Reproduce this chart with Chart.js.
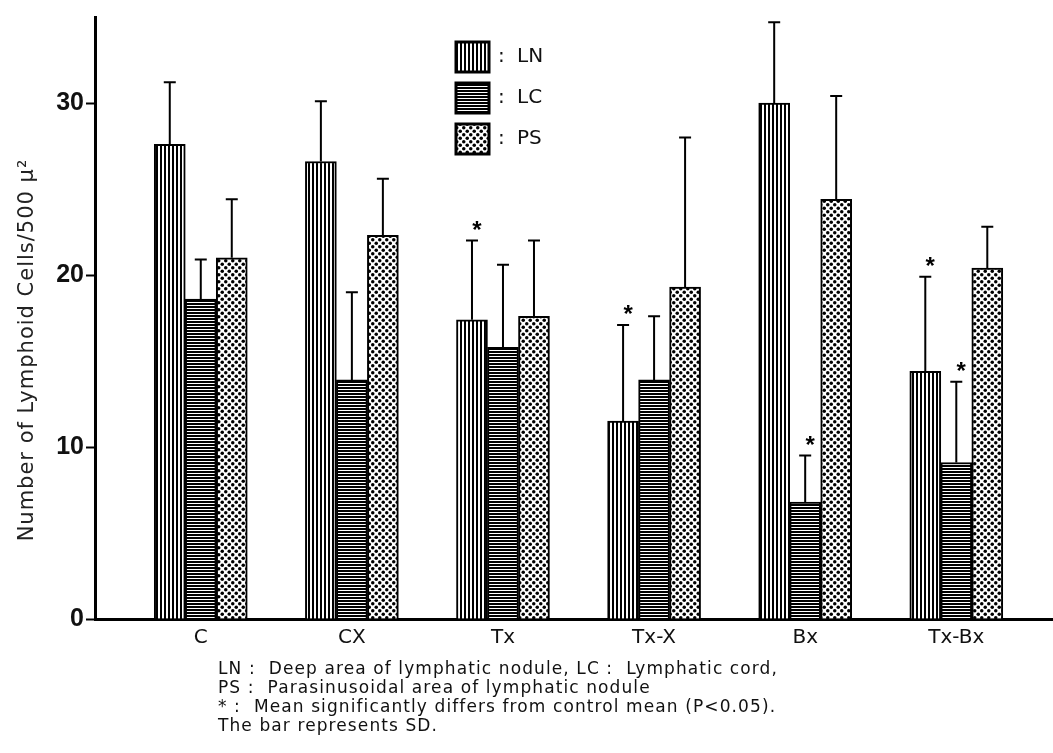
<!DOCTYPE html>
<html>
<head>
<meta charset="utf-8">
<script src="https://cdn.jsdelivr.net/npm/chart.js@4.4.1/dist/chart.umd.min.js"></script>
<style>
    html, body { margin: 0; padding: 0; background: #fff; }
    #wrap { position: relative; width: 1053px; height: 753px; }
    #footnote {
        position: absolute;
        left: 218px;
        top: 659px;
        font-family: "DejaVu Sans", "Liberation Sans", sans-serif;
        font-size: 17px;
        line-height: 19px;
        letter-spacing: 1.1px;
        color: #111;
        white-space: pre;
    }
</style>
</head>
<body>
<div id="wrap">
    <canvas id="chart" width="1053" height="753"></canvas>
    <div id="footnote">LN :  Deep area of lymphatic nodule, LC :  Lymphatic cord,
PS :  Parasinusoidal area of lymphatic nodule
* :  Mean significantly differs from control mean (P&lt;0.05).
The bar represents SD.</div>
</div>
<script>
// 그룹(카테고리)
const categories = ['C', 'CX', 'Tx', 'Tx-X', 'Bx', 'Tx-Bx'];

// LN : Deep area of lymphatic nodule
const lnMean = [27.6, 26.6, 17.4, 11.5, 30.0, 14.4];
const lnSd = [3.6, 3.5, 4.6, 5.6, 4.7, 5.5];
const lnStar = [false, false, true, true, false, true];

// LC : Lymphatic cord
const lcMean = [18.6, 13.9, 15.8, 13.9, 6.8, 9.1];
const lcSd = [2.3, 5.1, 4.8, 3.7, 2.7, 4.7];
const lcStar = [false, false, false, false, true, true];

// PS : Parasinusoidal area
const psMean = [21.0, 22.3, 17.6, 19.3, 24.4, 20.4];
const psSd = [3.4, 3.3, 4.4, 8.7, 6.0, 2.4];
const psStar = [false, false, false, false, false, false];

const yTicks = [0, 10, 20, 30];
const yTitle = 'Number of Lymphoid Cells/500 \u03bc\u00b2';

// 해칭 패턴 만들기
function makePattern(kind) {
    const c = document.createElement('canvas');
    const g = c.getContext('2d');
    if (kind === 'vertical') {
        c.width = 4; c.height = 4;
        g.fillStyle = '#fff'; g.fillRect(0, 0, 4, 4);
        g.fillStyle = '#000'; g.fillRect(0, 0, 2, 4);
    } else if (kind === 'horizontal') {
        c.width = 4; c.height = 3;
        g.fillStyle = '#fff'; g.fillRect(0, 0, 4, 3);
        g.fillStyle = '#000'; g.fillRect(0, 0, 4, 2);
    } else {
        c.width = 7; c.height = 7;
        g.fillStyle = '#fff'; g.fillRect(0, 0, 7, 7);
        g.fillStyle = '#000';
        [[1.75, 1.75], [5.25, 5.25]].forEach(([x, y]) => {
            g.beginPath(); g.arc(x, y, 1.75, 0, Math.PI * 2); g.fill();
        });
    }
    return g.createPattern(c, 'repeat');
}

const series = [
    { label: 'LN', mean: lnMean, sd: lnSd, star: lnStar, fill: makePattern('vertical') },
    { label: 'LC', mean: lcMean, sd: lcSd, star: lcStar, fill: makePattern('horizontal') },
    { label: 'PS', mean: psMean, sd: psSd, star: psStar, fill: makePattern('dots') }
];

// 에러바와 별표
const errorBars = {
    id: 'errorBars',
    afterDatasetsDraw(chart) {
        const ctx = chart.ctx;
        const yScale = chart.scales.y;
        ctx.save();
        ctx.strokeStyle = '#000';
        ctx.fillStyle = '#000';
        ctx.lineWidth = 2;
        series.forEach((s, di) => {
            chart.getDatasetMeta(di).data.forEach((bar, i) => {
                const top = yScale.getPixelForValue(s.mean[i] + s.sd[i]);
                ctx.beginPath();
                ctx.moveTo(bar.x, bar.y);
                ctx.lineTo(bar.x, top);
                ctx.moveTo(bar.x - 6, top);
                ctx.lineTo(bar.x + 6, top);
                ctx.stroke();
                if (s.star[i]) {
                    ctx.font = 'bold 24px "Liberation Sans", Arial, sans-serif';
                    ctx.textAlign = 'center';
                    ctx.textBaseline = 'alphabetic';
                    ctx.fillText('*', bar.x + 5, top - 3);
                }
            });
        });
        ctx.restore();
    }
};

// 범례와 y축 제목
const annotations = {
    id: 'annotations',
    afterDraw(chart) {
        const ctx = chart.ctx;
        ctx.save();
        series.forEach((s, i) => {
            const cy = 57 + i * 41;
            ctx.fillStyle = s.fill;
            ctx.fillRect(456, cy - 15, 33, 30);
            ctx.strokeStyle = '#000';
            ctx.lineWidth = 3;
            ctx.strokeRect(456, cy - 15, 33, 30);
            ctx.fillStyle = '#111';
            ctx.font = '20px "DejaVu Sans", sans-serif';
            ctx.textBaseline = 'middle';
            ctx.textAlign = 'left';
            ctx.fillText(':', 498, cy);
            ctx.fillText(s.label, 517, cy);
        });

        ctx.translate(33, 350);
        ctx.rotate(-Math.PI / 2);
        ctx.font = '21px "DejaVu Sans", sans-serif';
        ctx.letterSpacing = '1px';
        ctx.fillStyle = '#222';
        ctx.textAlign = 'center';
        ctx.textBaseline = 'alphabetic';
        ctx.fillText(yTitle, 0, 0);
        ctx.restore();
    }
};

new Chart(document.getElementById('chart'), {
    type: 'bar',
    data: {
        datasets: series.map(s => ({
            label: s.label,
            data: categories.map((c, i) => ({ x: i, y: s.mean[i] })),
            backgroundColor: s.fill,
            borderColor: '#000',
            borderWidth: 2,
            barThickness: 31
        }))
    },
    options: {
        responsive: false,
        animation: false,
        layout: { padding: { top: 15, right: 0, bottom: 0, left: 0 } },
        plugins: {
            legend: { display: false },
            tooltip: { enabled: false }
        },
        scales: {
            x: {
                type: 'linear',
                offset: false,
                min: -0.7,
                max: 5.64,
                grid: { display: false, drawTicks: false },
                border: { color: '#000', width: 3 },
                afterBuildTicks: scale => {
                    scale.ticks = categories.map((c, i) => ({ value: i }));
                },
                ticks: {
                    autoSkip: false,
                    maxRotation: 0,
                    padding: 7,
                    color: '#111',
                    font: { family: '"DejaVu Sans", sans-serif', size: 20 },
                    callback: v => categories[v]
                },
                afterFit: scale => { scale.height = 134; }
            },
            y: {
                min: 0,
                max: 35,
                afterBuildTicks: scale => {
                    scale.ticks = yTicks.map(v => ({ value: v }));
                },
                grid: {
                    drawOnChartArea: false,
                    drawTicks: true,
                    tickLength: 9,
                    tickWidth: 2,
                    tickColor: '#000'
                },
                border: { color: '#000', width: 3 },
                ticks: {
                    padding: 2,
                    color: '#111',
                    font: { family: '"Liberation Sans", Arial, sans-serif', size: 25, weight: 'bold' }
                },
                afterFit: scale => { scale.width = 95; }
            }
        }
    },
    plugins: [errorBars, annotations]
});
</script>
</body>
</html>
